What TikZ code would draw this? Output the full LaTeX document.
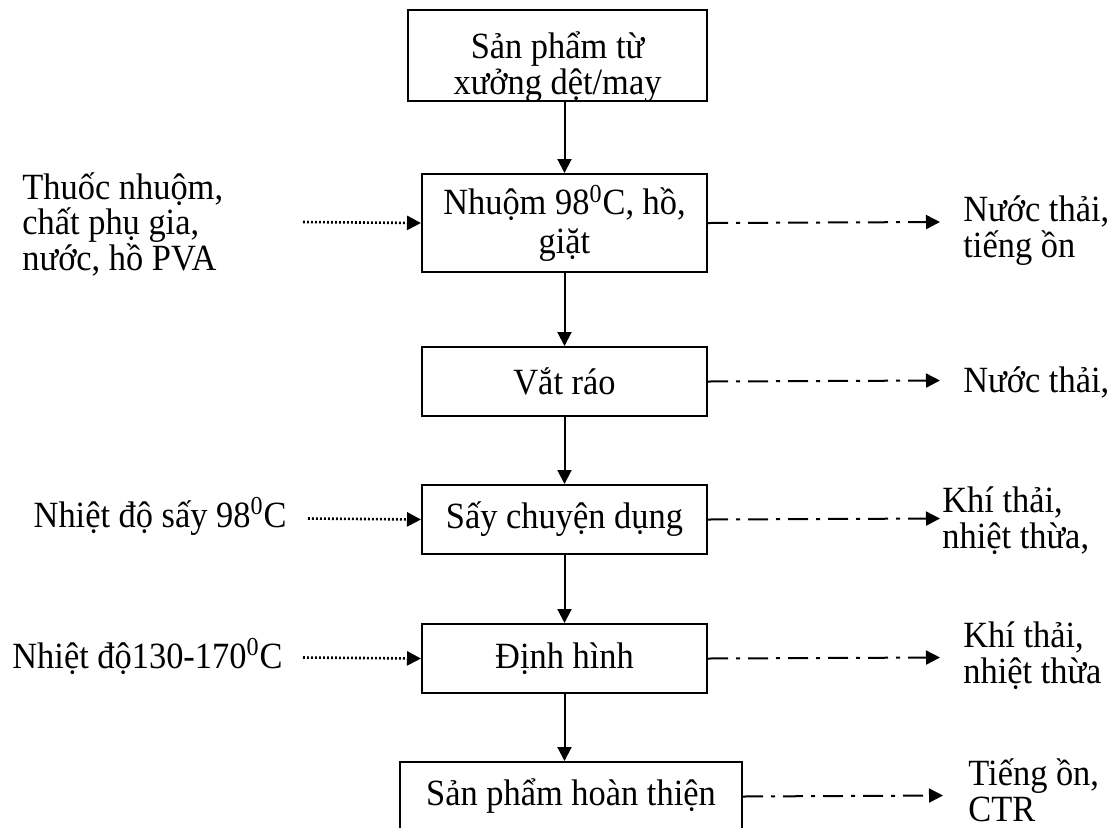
\documentclass[tikz,border=0pt]{standalone}
\usepackage{fontspec}
\setmainfont{Liberation Serif}[FakeStretch=0.93]
\usetikzlibrary{arrows.meta}
\begin{document}
\begin{tikzpicture}[x=0.5pt,y=-0.5pt,
  every node/.style={font=\fontsize{18.5pt}{17.75pt}\selectfont, inner sep=0pt},
  box/.style={draw, line width=1pt, anchor=north west},
  flow/.style={line width=1pt, -{Triangle[length=7pt,width=7pt]}},
  inp/.style={line width=1.3pt, dash pattern=on 0.9pt off 1.1pt, -{Triangle[length=7pt,width=7pt]}},
  outp/.style={line width=1pt, dash pattern=on 10pt off 4pt on 2pt off 4pt, -{Triangle[length=7pt,width=7pt]}},
  lbl/.style={anchor=base west, align=left}
]
\useasboundingbox (0,0) rectangle (1116,827);

% boxes
\node[box, minimum width=149.5pt, minimum height=45.5pt,
  path picture={
    \node[anchor=base, align=center, font=\fontsize{18.5pt}{15pt}\selectfont] (t1) at ([yshift=-42pt]path picture bounding box.north) {Sản phẩm từ\\xưởng dệt/may};
  }] (b1) at (407,9) {};
\node[box, minimum width=142.5pt, minimum height=49pt, align=center] (b2) at (421,173) {Nhuộm 98\textsuperscript{0}C, hồ,\\[1.5pt]giặt};
\node[box, minimum width=142.5pt, minimum height=34.5pt] (b3) at (421,346) {\raisebox{-1.5pt}{Vắt ráo}};
\node[box, minimum width=142.5pt, minimum height=34.5pt] (b4) at (421,484) {Sấy chuyện dụng};
\node[box, minimum width=142.5pt, minimum height=34.5pt] (b5) at (421,623) {Định hình};
\node[box, minimum width=171pt, minimum height=34.5pt] (b6) at (399,761) {Sản phẩm hoàn thiện};

% main flow
\draw[flow] (b1.south -| b2.south) -- (b2.north);
\draw[flow] (b2.south) -- (b3.north);
\draw[flow] (b3.south) -- (b4.north);
\draw[flow] (b4.south) -- (b5.north);
\draw[flow] (b5.south) -- (b5.south |- b6.north);

% inputs
\node[lbl] (i2) at (22,270) {Thuốc nhuộm,\\chất phụ gia,\\nước, hồ PVA};
\node[anchor=base east] (i4) at (287,527) {Nhiệt độ sấy 98\textsuperscript{0}C};
\node[anchor=base west] (i5) at (12,668) {Nhiệt độ130-170\textsuperscript{0}C};
\coordinate (s2) at (303,222);
\coordinate (s4) at (308,518.5);
\coordinate (s5) at (303,657.5);
\draw[inp] (s2) -- (b2.west);
\draw[inp] (s4) -- (b4.west);
\draw[inp] (s5) -- (b5.west);

% outputs
\coordinate (e2) at (940,222);
\coordinate (e3) at (940,380.5);
\coordinate (e4) at (940,518.5);
\coordinate (e5) at (940,657.5);
\coordinate (e6) at (943,795.5);
\draw[outp] (b2.east) -- (e2);
\draw[outp] (b3.east) -- (e3);
\draw[outp] (b4.east) -- (e4);
\draw[outp] (b5.east) -- (e5);
\draw[outp] (b6.east) -- (e6);

\node[lbl] (o2) at (963,257) {Nước thải,\\tiếng ồn};
\node[lbl] (o3) at (963,392) {Nước thải,};
\node[lbl] (o4) at (942,548) {Khí thải,\\nhiệt thừa,};
\node[lbl] (o5) at (963,683) {Khí thải,\\nhiệt thừa};
\node[lbl] (o6) at (968,821) {Tiếng ồn,\\CTR};
\end{tikzpicture}
\end{document}
